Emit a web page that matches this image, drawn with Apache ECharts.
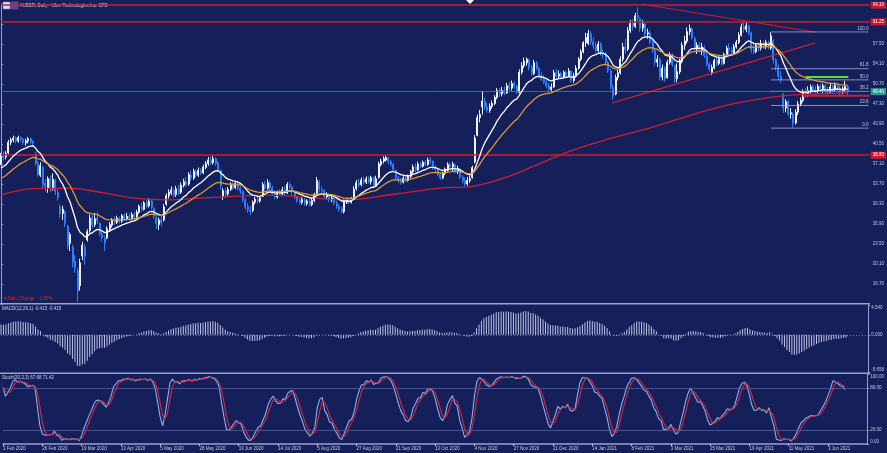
<!DOCTYPE html>
<html><head><meta charset="utf-8">
<script src="https://cdn.jsdelivr.net/npm/echarts@6/dist/echarts.min.js"></script>
<style>html,body{margin:0;padding:0;background:#15205a;}#c{width:887px;height:453px;}</style>
</head><body><div id="c"></div>
<script>
// ---- data: [open, close, low, high] per trading day from 3 Feb 2020
const candles = [
[37.2,38.6,36.9,39.0],[38.6,38.2,37.6,39.2],[38.3,38.9,37.9,39.3],[39.0,40.8,38.8,41.2],[40.8,41.2,40.3,41.6],
[41.2,41.5,40.8,41.9],[41.5,41.0,40.6,41.8],[41.0,41.6,40.7,41.9],[41.6,41.3,40.9,41.8],[41.3,40.7,40.3,41.5],
[40.7,41.0,40.2,41.4],[41.0,41.4,40.6,41.7],[41.4,40.9,40.5,41.6],[40.9,40.6,40.1,41.2],[38.8,37.2,36.8,39.2],
[37.2,35.4,35.0,37.6],[35.2,36.8,34.9,37.4],[36.5,33.6,33.0,36.8],[33.8,33.2,32.4,34.5],[33.0,34.6,32.2,35.0],
[34.6,32.9,32.3,35.1],[33.0,34.5,32.6,35.5],[34.3,32.4,31.8,34.6],[32.3,31.4,30.9,32.8],[29.8,28.6,27.9,30.2],
[28.7,29.4,27.6,30.0],[29.0,27.0,26.4,29.2],[26.5,23.2,22.6,26.8],[23.6,25.1,22.3,25.5],[23.0,20.4,19.5,23.4],
[20.6,19.4,18.6,21.6],[19.0,15.5,13.6,19.4],[16.4,20.3,15.6,21.0],[21.5,23.3,20.8,23.9],[23.0,21.4,20.0,23.5],
[24.2,25.6,23.9,26.0],[25.8,27.9,25.4,28.5],[28.0,26.7,26.1,28.6],[26.8,27.8,26.4,28.8],[27.9,27.5,26.9,29.0],
[27.0,25.3,24.8,27.2],[25.2,24.6,23.9,25.9],[24.4,23.6,22.3,24.9],[24.5,26.1,24.3,26.5],[26.0,26.8,25.6,27.2],
[26.7,27.6,26.3,27.9],[27.6,27.2,26.7,28.2],[27.2,27.9,26.9,28.3],[27.8,27.4,27.0,28.2],[27.4,28.3,27.1,28.6],
[28.3,27.8,27.4,28.7],[27.8,28.2,27.5,28.8],[28.2,27.9,27.4,28.7],[27.9,28.5,27.6,28.9],[28.5,28.1,27.8,29.0],
[28.1,28.9,27.9,29.3],[28.9,29.9,28.6,30.2],[29.9,29.4,29.0,30.5],[29.4,30.5,29.2,30.8],[30.5,30.0,29.6,31.0],
[30.0,30.8,29.7,31.3],[30.8,29.8,29.4,31.1],[29.6,28.2,27.8,29.8],[28.0,27.0,26.0,28.3],[26.8,27.6,25.9,28.0],
[27.6,27.1,26.5,28.5],[27.6,29.8,27.3,30.3],[30.3,31.7,30.0,32.1],[31.7,32.3,31.2,32.8],[32.2,32.7,31.8,33.3],
[32.6,31.9,31.4,33.0],[31.9,32.9,31.5,33.4],[32.8,32.2,31.8,33.5],[32.3,33.5,32.0,34.0],[33.5,34.1,33.1,34.6],
[34.1,33.6,33.2,34.9],[33.7,35.3,33.4,35.7],[35.2,34.7,34.2,36.0],[34.7,35.9,34.4,36.3],[35.8,35.2,34.8,36.2],
[35.2,36.0,34.9,36.5],[36.0,35.6,35.2,36.4],[35.6,36.6,35.4,37.0],[36.5,37.2,36.2,37.6],[37.2,37.8,36.8,38.3],
[37.8,37.3,36.9,38.3],[37.3,38.0,37.0,38.5],[38.0,37.2,36.8,38.3],[37.3,36.2,35.8,37.6],[36.0,33.4,32.8,36.2],
[31.6,32.6,31.0,33.0],[32.6,32.0,31.4,33.0],[32.0,32.8,31.7,33.2],[32.8,33.6,32.5,34.0],[33.6,33.1,32.7,34.0],
[33.1,33.8,32.8,34.2],[33.7,33.0,32.6,34.0],[33.0,32.5,32.0,33.3],[32.4,31.1,30.6,32.6],[31.0,29.8,29.3,31.3],
[29.9,29.3,28.8,30.4],[29.3,29.0,28.4,30.0],[29.2,30.6,28.9,30.9],[30.6,31.1,30.2,31.5],[31.1,30.8,30.4,31.6],
[30.8,31.3,30.5,31.7],[31.6,33.6,31.5,34.0],[33.6,33.0,32.6,34.2],[33.0,33.9,32.7,34.5],[33.9,33.0,32.4,34.3],
[33.0,32.0,31.7,33.4],[32.0,31.5,31.1,32.6],[31.5,32.3,31.2,32.6],[32.3,32.0,31.6,32.8],[32.0,32.7,31.8,33.2],
[32.7,32.2,31.8,33.3],[32.2,33.6,32.0,34.0],[33.6,33.2,32.8,34.0],[33.2,32.4,31.8,33.4],[32.4,31.5,31.1,32.6],
[31.5,30.9,30.5,31.7],[30.9,30.6,30.2,31.3],[30.6,31.1,30.2,31.5],[31.0,30.4,30.0,31.3],[30.4,30.8,30.0,31.1],
[30.8,30.2,29.9,31.2],[30.2,30.9,29.9,31.3],[30.9,31.9,30.6,32.2],[32.0,34.3,31.8,34.9],[34.0,32.8,32.3,34.4],
[32.8,32.6,32.0,33.3],[32.6,31.5,31.3,32.8],[31.5,31.9,31.2,32.3],[31.9,31.0,30.6,32.1],[31.0,31.3,30.6,31.7],
[31.3,30.5,30.1,31.5],[30.5,29.9,29.5,30.8],[29.9,29.4,29.0,30.2],[29.5,29.0,28.7,29.9],[29.0,30.8,28.7,31.2],
[30.6,30.9,30.3,31.3],[30.9,30.6,30.3,31.2],[30.6,31.2,30.4,31.5],[31.3,32.8,31.1,33.3],[32.9,33.9,32.6,34.4],
[33.9,33.5,33.1,34.6],[33.6,34.4,33.3,34.8],[34.4,34.0,33.6,34.9],[34.0,34.6,33.7,35.0],[34.6,34.1,33.8,35.0],
[34.1,34.8,33.6,35.1],[34.8,33.4,33.0,35.0],[33.4,34.6,33.2,35.1],[34.8,37.1,34.6,37.5],[37.0,37.6,36.7,38.0],
[37.6,38.0,37.2,38.4],[37.8,38.2,37.5,38.5],[38.1,37.5,37.1,38.3],[37.5,37.0,36.7,37.8],[37.0,36.2,35.9,37.3],
[36.0,34.8,34.4,36.2],[34.8,34.3,33.9,35.1],[34.3,34.0,33.6,34.7],[34.0,34.7,33.8,35.0],[34.7,34.3,34.0,34.9],
[34.3,35.0,34.1,35.3],[35.0,35.8,34.7,36.1],[35.8,36.6,35.5,37.0],[36.6,36.1,35.7,37.2],[36.1,37.1,35.9,37.5],
[37.1,36.7,36.4,37.4],[36.7,37.4,36.5,37.7],[37.4,37.0,36.7,37.8],[37.0,37.8,36.8,38.2],[37.8,37.6,37.1,38.3],
[37.6,36.5,36.1,37.7],[36.5,36.2,35.8,36.9],[36.2,35.3,35.0,36.4],[35.3,34.7,34.4,35.6],[34.7,35.5,34.5,35.8],
[35.5,36.2,35.2,36.5],[36.0,37.0,35.8,37.4],[37.0,36.6,36.1,37.4],[36.6,37.1,35.9,37.5],[37.0,35.8,35.5,37.2],
[35.8,36.3,35.4,36.8],[36.2,34.9,34.5,36.4],[34.9,34.2,33.8,35.2],[34.3,33.7,33.3,34.8],[33.7,34.3,33.4,34.9],
[34.3,34.6,33.9,35.2],[34.8,36.5,34.6,36.8],[37.5,41.5,37.2,42.0],[42.0,45.0,41.8,45.5],[45.0,45.5,44.2,46.3],
[46.8,47.8,45.5,49.5],[47.8,46.8,46.3,48.4],[46.8,46.2,45.8,47.5],[46.2,46.9,45.8,47.4],[46.9,47.4,46.5,47.9],
[47.4,48.4,47.1,48.8],[48.4,49.6,48.1,50.0],[49.6,49.0,48.5,50.0],[49.0,49.6,48.6,50.2],[49.6,49.2,48.8,50.3],
[49.2,50.4,49.0,50.9],[50.4,50.0,49.6,51.1],[50.0,50.8,49.6,51.3],[50.8,50.3,49.9,51.2],[50.3,49.4,49.0,50.6],
[49.3,52.7,49.1,53.2],[52.7,53.8,52.3,54.4],[53.8,54.6,53.4,55.2],[54.3,54.9,53.8,55.2],[54.8,53.5,53.0,55.0],
[53.5,52.6,52.1,54.0],[52.5,54.3,52.2,54.8],[54.3,53.4,53.0,54.6],[53.4,52.2,51.8,53.6],[52.2,51.5,51.2,52.8],
[51.5,51.0,50.7,52.2],[51.0,50.4,50.0,51.5],[50.4,49.8,49.3,50.9],[49.8,50.2,49.3,50.8],[50.2,52.6,50.0,53.1],
[52.6,52.0,51.6,53.3],[52.0,52.4,51.6,53.0],[52.4,51.9,51.5,52.8],[51.9,52.7,51.6,53.0],[52.7,52.1,51.7,53.0],
[52.1,52.9,51.9,53.4],[52.9,51.3,50.9,53.0],[51.3,52.0,50.9,52.6],[52.0,53.4,51.8,53.9],[53.4,54.9,53.1,55.3],
[54.9,56.2,54.6,56.6],[56.2,57.7,55.9,58.0],[57.7,58.6,57.0,59.4],[57.6,59.3,57.3,59.9],[59.2,57.9,57.4,59.7],
[57.9,57.2,56.6,58.6],[57.2,56.4,56.0,57.8],[56.4,57.5,56.1,58.0],[57.5,56.0,55.5,57.8],[56.0,55.8,55.0,56.6],
[55.8,54.3,53.9,56.1],[54.3,53.0,52.6,54.6],[53.0,50.3,49.8,53.3],[50.2,48.7,48.0,50.6],[49.0,51.8,48.8,52.3],
[51.8,52.6,51.3,53.2],[52.6,54.9,52.3,55.4],[54.9,57.0,54.5,57.7],[57.0,56.5,55.8,58.4],[56.6,59.8,56.3,60.4],
[59.8,61.0,59.4,61.6],[61.0,60.5,59.8,61.7],[60.5,62.3,60.2,62.8],[62.4,62.0,61.4,63.7],[61.8,60.2,59.6,62.0],
[60.2,60.9,59.6,61.6],[60.9,59.2,58.6,61.1],[59.2,59.4,58.4,60.1],[59.4,57.8,57.4,59.8],[57.8,56.5,56.0,58.2],
[56.4,54.4,53.8,56.7],[54.4,54.9,53.6,55.6],[54.9,51.9,51.3,55.2],[51.9,53.4,51.3,54.0],[53.4,51.6,51.1,53.7],
[51.8,54.4,51.6,54.8],[54.4,55.5,54.0,56.1],[55.5,54.0,53.6,55.9],[53.8,51.6,50.9,54.0],[51.6,52.8,51.0,54.2],
[52.8,54.5,52.4,55.0],[54.5,57.3,54.2,57.8],[57.3,58.0,56.5,58.9],[58.0,59.6,57.6,60.3],[59.6,60.1,59.0,60.8],
[60.1,58.6,58.2,60.4],[58.5,56.7,56.1,58.7],[56.7,57.3,55.8,57.8],[57.3,56.4,56.0,57.8],[56.4,57.0,55.6,57.7],
[57.0,55.5,55.1,57.3],[55.5,54.1,53.7,56.0],[54.1,53.2,52.8,54.4],[52.6,53.5,52.2,54.0],[53.5,54.7,53.2,55.0],
[54.7,54.2,53.7,55.4],[54.2,55.0,53.9,55.4],[55.0,54.2,53.8,55.3],[54.2,55.7,54.0,56.0],[55.7,56.8,55.4,57.2],
[56.8,56.5,55.8,57.6],[56.5,56.0,55.6,57.0],[56.0,57.0,55.8,57.5],[57.0,57.8,56.7,58.2],[57.8,59.0,57.5,59.5],
[59.0,60.4,58.8,61.0],[60.4,60.0,59.4,61.6],[60.0,60.6,59.5,61.2],[60.6,59.4,59.0,60.8],[59.4,56.6,56.0,59.6],
[56.6,56.2,55.8,57.4],[56.2,57.3,55.9,57.6],[57.3,56.8,56.3,57.8],[56.8,57.6,56.4,58.2],[57.6,57.0,56.7,58.0],
[57.0,57.8,56.6,58.2],[57.8,56.9,56.6,58.1],[56.8,58.9,56.5,59.5],[58.0,54.8,54.2,58.3],[54.8,53.6,53.0,55.1],
[53.6,52.0,51.4,54.0],[52.0,51.4,50.9,52.9],[48.9,46.6,45.8,49.2],[46.6,47.7,45.9,48.1],[47.7,45.6,45.2,48.0],
[45.6,45.8,44.8,46.6],[45.6,44.0,43.3,45.9],[44.1,45.9,43.8,46.4],[45.9,47.3,45.4,47.8],[47.3,47.9,46.9,48.4],
[47.9,49.3,47.6,49.8],[49.3,48.9,48.4,50.1],[48.9,49.6,48.5,50.3],[49.6,50.2,49.1,50.6],[50.2,49.8,49.3,50.6],
[49.8,49.4,49.0,50.4],[49.4,50.3,49.1,50.7],[50.3,49.9,49.4,50.6],[49.9,50.4,49.2,50.8],[50.4,49.6,49.1,50.7],
[49.6,49.3,48.8,50.2],[49.3,50.2,49.0,50.7],[50.2,49.7,49.2,50.5],[49.7,50.5,49.4,51.0],[50.5,50.0,49.5,50.9],
[50.0,49.4,48.8,50.4],[49.4,49.8,48.9,50.3],[49.8,50.3,49.4,51.2],[50.3,49.4,48.9,50.5]
];
// 200-day moving average: [bar index, value]
const ma200Points = [[0,31.8],[13,32.9],[27,33.0],[40,32.3],[54,31.3],[67,31.0],[81,31.3],[94,31.6],[108,31.8],
[122,31.5],[139,31.0],[160,32.0],[178,33.0],[191,33.3],[205,34.9],[219,37.3],[232,39.5],[245,41.2],[260,42.9],
[275,44.8],[286,46.2],[300,47.6],[315,48.6],[330,49.0],[343,49.2]];
const maSeeds = {white: 36.1, orange: 34.4};
const macdSeeds = {fast: 36.5, slow: 35.0};
// drawn objects
const levelLines = [64.1, 61.25, 38.6];
const bidPrice = 49.4;
const fibLevels = [['100.0',59.55],['61.8',53.3],['50.0',51.4],['38.2',49.45],['23.6',47.05],['0.0',43.2]];
const fibRange = [312, 351.5];
const greenLine = [[326,51.9],[343.3,51.9]];
const supportLine = [[325,48.7],[352,48.7]];
const trendDown = [[259.4,64.3],[330,59.5]];
const trendUp = [[247.7,47.5],[330,57.7]];
const holidays = ['2020-02-17','2020-04-10','2020-05-25','2020-07-03','2020-09-07','2020-11-26','2020-12-25',
'2021-01-01','2021-01-18','2021-02-15','2021-04-02','2021-05-31'];
const N = 353, tickEvery = 16, lastTick = 336;
const priceAxis = {min: 13.3, max: 64.3, step: 3.4};
const macdAxis = {min: -5.658, max: 4.54};
const stochTicks = [0, 20, 80, 100];

const MON = ['Jan','Feb','Mar','Apr','May','Jun','Jul','Aug','Sep','Oct','Nov','Dec'];
function buildDates(n){
  const out=[]; const d=new Date(Date.UTC(2020,1,3));
  while(out.length<n){
    const wd=d.getUTCDay(), iso=d.toISOString().slice(0,10);
    if(wd!==0&&wd!==6&&holidays.indexOf(iso)<0) out.push(d.getUTCDate()+' '+MON[d.getUTCMonth()]+' '+d.getUTCFullYear());
    d.setUTCDate(d.getUTCDate()+1);
  }
  return out;
}
const cats = buildDates(N);
const closes = candles.map(c=>c[1]), lows = candles.map(c=>c[2]), highs = candles.map(c=>c[3]);
function ema(src,n,seed){const a=2/(n+1);let e=seed;return src.map(v=>(e=e+a*(v-e)));}
const maWhite = ema(closes,14,maSeeds.white).map(v=>+v.toFixed(3));
const maOrange = ema(closes,30,maSeeds.orange).map(v=>+v.toFixed(3));
const ef = ema(closes,12,macdSeeds.fast), es = ema(closes,26,macdSeeds.slow);
const macd = ef.map((v,i)=>+(v-es[i]).toFixed(4));
function stoch(kp,slow,dp){
  const num=[],den=[];
  for(let i=0;i<closes.length;i++){let hh=-1e9,ll=1e9;for(let j=Math.max(0,i-kp+1);j<=i;j++){hh=Math.max(hh,highs[j]);ll=Math.min(ll,lows[j]);}num.push(closes[i]-ll);den.push(hh-ll);}
  const K=num.map((v,i)=>{let a=0,b=0;for(let j=Math.max(0,i-slow+1);j<=i;j++){a+=num[j];b+=den[j];}return b>0?100*a/b:50;});
  const D=K.map((v,i)=>{let s=0,c=0;for(let j=Math.max(0,i-dp+1);j<=i;j++){s+=K[j];c++;}return s/c;});
  return [K.map(v=>+v.toFixed(2)),D.map(v=>+v.toFixed(2))];
}
const [stK, stD] = stoch(20,3,3);

const FONT = 'Liberation Sans';
const LBL = '#c4c8e6', AX = '#9aa0d6', BG = '#15205a';
const tickFn = (i)=> i%tickEvery===0 && i<=lastTick;
const hiddenCat = (g)=>({type:'category',gridIndex:g,data:cats,boundaryGap:false,show:false});
const lineSeg = (data,color,width,extra)=>Object.assign({type:'line',xAxisIndex:3,yAxisIndex:0,data:data,showSymbol:false,symbol:'none',silent:true,z:4,
  lineStyle:{color:color,width:width},itemStyle:{color:color}},extra||{});

const series = [
  {type:'candlestick',xAxisIndex:0,yAxisIndex:0,data:candles,barWidth:1.5,z:3,
   itemStyle:{color:'#eef2ff',color0:'#2d7dff',borderColor:'#eef2ff',borderColor0:'#2d7dff',borderWidth:1},
   markLine:{silent:true,symbol:['none','none'],animation:false,
     data:levelLines.map(v=>({yAxis:v,lineStyle:{color:'#c81e34',width:1.5,type:'solid'},
        label:{show:true,position:'end',distance:1,formatter:()=>v.toFixed(2),color:'#ffffff',backgroundColor:'#d8142a',padding:[1,2,1,2],fontSize:4.5,fontFamily:FONT}}))
       .concat([{yAxis:bidPrice,lineStyle:{color:'#4a78b0',width:0.8,type:'solid'},
        label:{show:true,position:'end',distance:1,formatter:()=>bidPrice.toFixed(2),color:'#ffffff',backgroundColor:'#2b9c98',padding:[1,2,1,2],fontSize:4.5,fontFamily:FONT}}])}},
  {type:'line',xAxisIndex:0,yAxisIndex:0,data:maWhite,showSymbol:false,symbol:'none',z:5,lineStyle:{color:'#ffffff',width:1.3}},
  {type:'line',xAxisIndex:0,yAxisIndex:0,data:maOrange,showSymbol:false,symbol:'none',z:5,lineStyle:{color:'#dc9a36',width:1.3}},
  lineSeg(ma200Points,'#cc1f30',1.3,{smooth:0.4}),
  lineSeg(trendDown,'#cc1f30',1.2),
  lineSeg(trendUp,'#cc1f30',1.2),
  lineSeg(greenLine,'#52e820',2),
  lineSeg(supportLine,'#c81e34',2)
];
fibLevels.forEach(([name,v])=>{
  series.push({type:'line',xAxisIndex:3,yAxisIndex:0,silent:true,z:4,symbol:'circle',symbolSize:0,showSymbol:true,
    lineStyle:{color:'#a9add4',width:0.8},itemStyle:{color:'#a9add4'},
    data:[[fibRange[0],v],{value:[fibRange[1],v],label:{show:true,position:'top',distance:1,align:'right',formatter:name,color:'#c8cce8',fontSize:4.5,fontFamily:FONT}}]});
});
series.push({type:'bar',xAxisIndex:1,yAxisIndex:1,data:macd,barWidth:1,itemStyle:{color:'#bfc3e6'},silent:true,
  markLine:{silent:true,symbol:['none','none'],data:[{yAxis:0}],label:{show:false},lineStyle:{color:'#8a90c6',width:0.8,type:[1,2]}}});
series.push({type:'line',xAxisIndex:2,yAxisIndex:2,data:stK,showSymbol:false,symbol:'none',z:4,lineStyle:{color:'#86b4f4',width:1.1},
  markLine:{silent:true,symbol:['none','none'],data:[{yAxis:20},{yAxis:80}],label:{show:false},lineStyle:{color:'#56609e',width:0.8,type:'solid'}}});
series.push({type:'line',xAxisIndex:2,yAxisIndex:2,data:stD,showSymbol:false,symbol:'none',z:5,lineStyle:{color:'#d8283e',width:1.1}});

const yBase = (g)=>({type:'value',gridIndex:g,position:'right',scale:true,
  axisLine:{show:true,lineStyle:{color:AX,width:1}},axisTick:{show:true,length:2,lineStyle:{color:AX}},
  splitLine:{show:false}});
const lblBase = {color:LBL,fontSize:4.5,fontFamily:FONT,margin:3,verticalAlignMaxLabel:'top',verticalAlignMinLabel:'bottom'};

const option = {
  backgroundColor: BG, animation:false,
  grid:[{left:1,right:17,top:4,height:300},{left:1,right:17,top:305,height:67},{left:1,right:17,top:374,height:70}],
  xAxis:[hiddenCat(0),hiddenCat(1),
    {type:'category',gridIndex:2,data:cats,boundaryGap:false,
     axisLine:{show:true,lineStyle:{color:AX,width:1.5}},
     axisTick:{show:true,interval:tickFn,length:2,lineStyle:{color:LBL}},
     axisLabel:{interval:tickFn,align:'left',color:LBL,fontSize:4.5,fontFamily:FONT,margin:2},splitLine:{show:false}},
    {type:'value',gridIndex:0,min:0,max:N-1,show:false}],
  yAxis:[
    Object.assign(yBase(0),{min:priceAxis.min,max:priceAxis.max,interval:priceAxis.step,
      axisLabel:Object.assign({},lblBase,{formatter:(v)=>(v<15||v>59)?'':v.toFixed(2)})}),
    Object.assign(yBase(1),{min:macdAxis.min,max:macdAxis.max,
      axisTick:{show:true,length:2,lineStyle:{color:AX},customValues:[macdAxis.min,0,macdAxis.max]},
      axisLabel:Object.assign({},lblBase,{customValues:[macdAxis.min,0,macdAxis.max],formatter:(v)=>v.toFixed(3)})}),
    Object.assign(yBase(2),{min:0,max:100,
      axisTick:{show:true,length:2,lineStyle:{color:AX},customValues:stochTicks},
      axisLabel:Object.assign({},lblBase,{customValues:stochTicks,formatter:(v)=>v.toFixed(2)})})
  ],
  series: series,
  graphic:[
    {type:'rect',shape:{x:3,y:2,width:7,height:7},style:{fill:'#d8def4',stroke:'#8088c0',lineWidth:0.5},silent:true},
    {type:'rect',shape:{x:11,y:2,width:7,height:7},style:{fill:'#3550c8',stroke:'#c03040',lineWidth:0.8},silent:true},
    {type:'text',x:20,y:6,style:{text:'#UBER, Daily - Uber Technologies Inc. CFD',fill:'#d8dcf0',fontSize:4.5,fontFamily:FONT,verticalAlign:'middle'},silent:true},
    {type:'polygon',shape:{points:[[466,0],[474,0],[470,4]]},style:{fill:'#ffffff'},silent:true},
    {type:'text',x:3,y:299,style:{text:'\u25BCDaily Change   -1.80%',fill:'#e0202e',fontSize:4.5,fontFamily:FONT,verticalAlign:'middle'},silent:true},
    {type:'line',shape:{x1:0,y1:303.8,x2:870,y2:303.8},style:{stroke:AX,lineWidth:1.5},silent:true},
    {type:'line',shape:{x1:0,y1:373.2,x2:870,y2:373.2},style:{stroke:AX,lineWidth:1.5},silent:true},
    {type:'text',x:2,y:308.5,style:{text:'MACD(12,26,1) -0.415 -0.415',fill:'#d0d4ee',fontSize:4.5,fontFamily:FONT,verticalAlign:'middle'},silent:true},
    {type:'text',x:2,y:377.5,style:{text:'Stoch(20,3,3) 67.68 71.42',fill:'#d0d4ee',fontSize:4.5,fontFamily:FONT,verticalAlign:'middle'},silent:true}
  ]
};
const chart = echarts.init(document.getElementById('c'),null,{renderer:'canvas'});
chart.setOption(option);
</script>
</body></html>
